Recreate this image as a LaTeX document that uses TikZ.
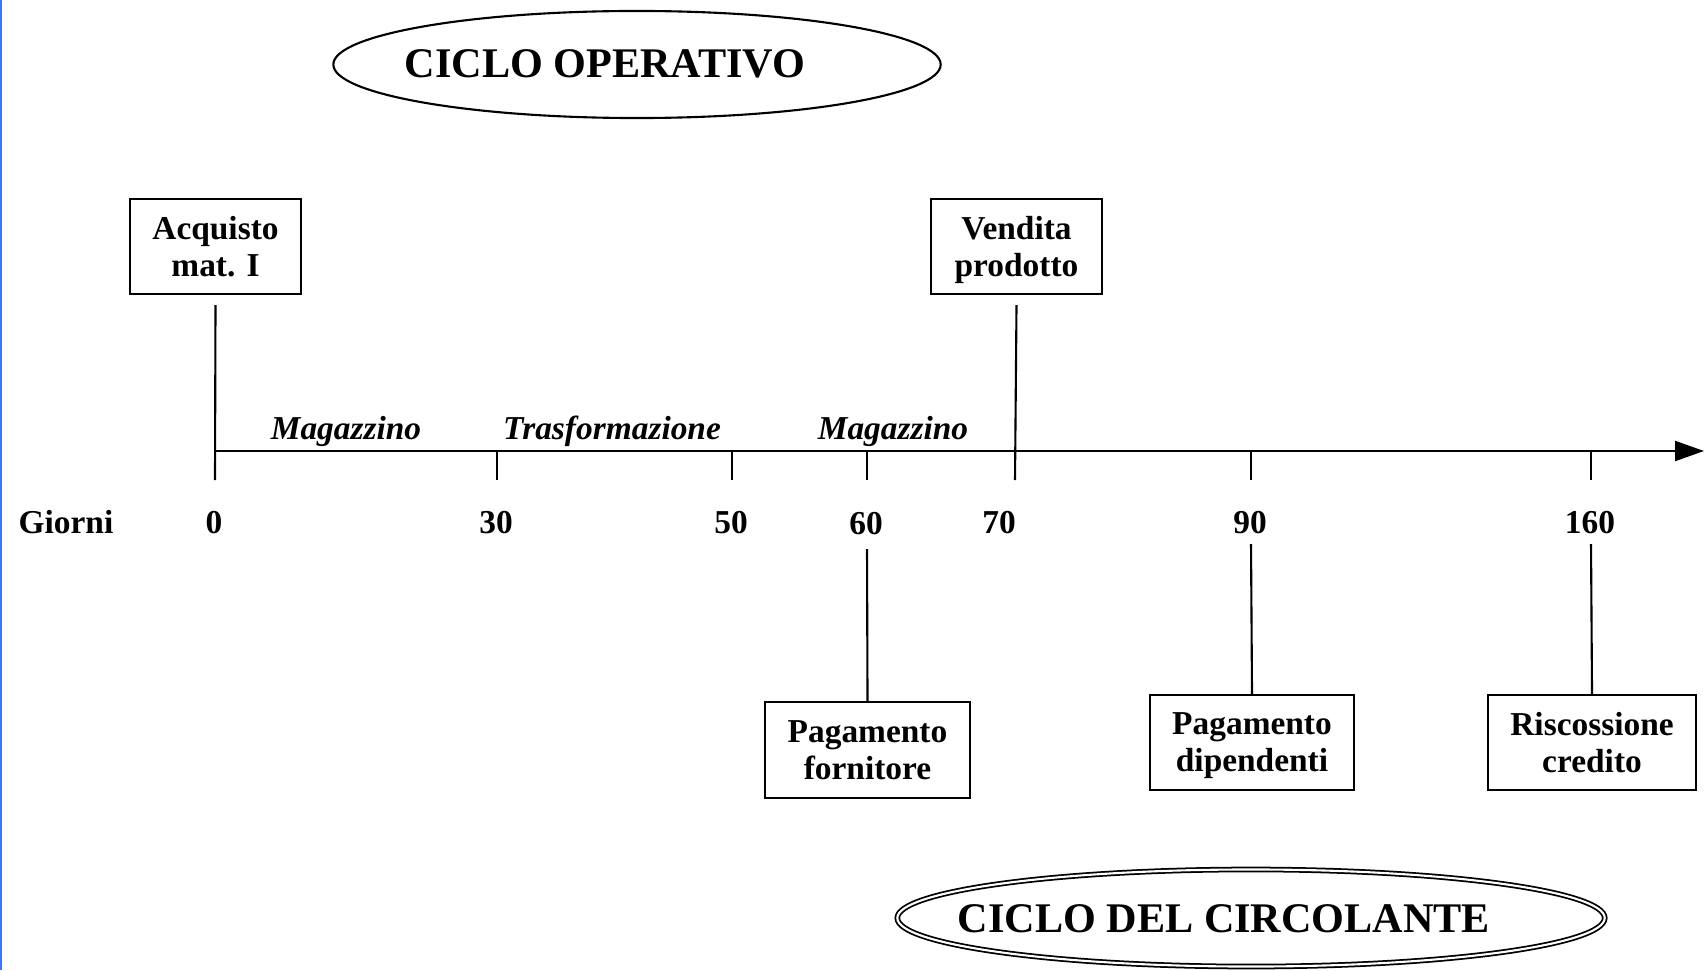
\documentclass[tikz,border=0pt]{standalone}
\usepackage{fontspec}
\setmainfont{Liberation Serif}
\usetikzlibrary{arrows.meta,shapes.geometric}
\newcommand{\dfs}{\fontsize{9.5pt}{10.5pt}\selectfont}
\newcommand{\tfs}{\fontsize{12pt}{14pt}\selectfont}
\newcommand{\nodepth}[1]{\raisebox{0pt}[\height][0pt]{#1}}
\definecolor{edgeblue}{RGB}{60,120,255}
\begin{document}
\begin{tikzpicture}[x=0.01cm,y=-0.01cm,
  ln/.style={line width=0.6pt},
  evbox/.style={draw,line width=0.6pt,align=center,inner sep=0pt,font=\dfs\bfseries,minimum height=0.95cm},
  daylab/.style={anchor=base,inner sep=0pt,font=\dfs\bfseries},
  phaselab/.style={anchor=base,inner sep=0pt,font=\dfs\bfseries\itshape},
  titlelab/.style={inner sep=0pt,font=\tfs\bfseries},
  cycle/.style={ellipse,draw,inner sep=0pt,line width=0.6pt}]
\useasboundingbox (0,0) rectangle (1704,970);
\draw[edgeblue,line width=0.45pt] (0.8,0) -- (0.8,970);

% titles
\node[cycle,minimum width=6.07cm,minimum height=1.07cm] (op) at (637,64.5) {};
\node[titlelab] (optext) at (605,64) {CICLO OPERATIVO};
\node[cycle,double,line width=0.5pt,double distance=0.6pt,minimum width=7.07cm,minimum height=0.97cm] (ci) at (1251,918) {};
\node[titlelab] (citext) at (1224,919) {CICLO DEL CIRCOLANTE};

% event boxes
\node[evbox,minimum width=1.71cm] (acq) at (215.5,246.5) {Acquisto\\mat. I};
\node[evbox,minimum width=1.71cm] (ven) at (1016.5,246.5) {Vendita\\\nodepth{prodotto}};
\node[evbox,minimum width=2.05cm,minimum height=0.96cm] (pf) at (867.5,750) {Pagamento\\fornitore};
\node[evbox,minimum width=2.04cm] (pd) at (1252,742.5) {Pagamento\\\nodepth{dipendenti}};
\node[evbox,minimum width=2.08cm] (rc) at (1592,742.5) {Riscossione\\credito};

% axis
\coordinate (ax0) at (215,451);
\coordinate (axend) at (1704,451);
\draw[ln,-{Triangle[length=0.29cm,width=0.2cm]}] (ax0) -- (axend);

% ticks
\coordinate (t0) at (215,480);
\coordinate (k30) at (497,451);  \coordinate (t30) at (497,480);
\coordinate (k50) at (732,451);  \coordinate (t50) at (732,480);
\coordinate (k60) at (867,451);  \coordinate (t60) at (867,480);
\coordinate (t70) at (1015,480);
\coordinate (k90) at (1251,451); \coordinate (t90) at (1251,480);
\coordinate (k160) at (1591,451);\coordinate (t160) at (1591,480);
\draw[ln] ([yshift=-0.1cm]acq.south) -- (t0);
\draw[ln] ([yshift=-0.1cm]ven.south) -- (t70);
\draw[ln] (k30) -- (t30);
\draw[ln] (k50) -- (t50);
\draw[ln] (k60) -- (t60);
\draw[ln] (k90) -- (t90);
\draw[ln] (k160) -- (t160);

% phase labels
\node[phaselab] (m1) at (346,439) {Magazzino};
\node[phaselab] (tr) at (612,439) {Trasformazione};
\node[phaselab] (m2) at (893,439) {Magazzino};

% day labels
\node[daylab] (gio) at (66,533) {Giorni};
\node[daylab] (n0) at (214,533) {0};
\node[daylab] (n30) at (496,533) {30};
\node[daylab] (n50) at (731,533) {50};
\node[daylab] (n60) at (866,534.5) {60};
\node[daylab] (n70) at (999,533) {70};
\node[daylab] (n90) at (1250,533) {90};
\node[daylab] (n160) at (1590,533) {160};

% lower connectors
\coordinate (u60) at (867,549);
\coordinate (u90) at (1251,544);
\coordinate (u160) at (1591,544);
\draw[ln] (u60) -- (pf.north);
\draw[ln] (u90) -- (pd.north);
\draw[ln] (u160) -- (rc.north);
\end{tikzpicture}
\end{document}
